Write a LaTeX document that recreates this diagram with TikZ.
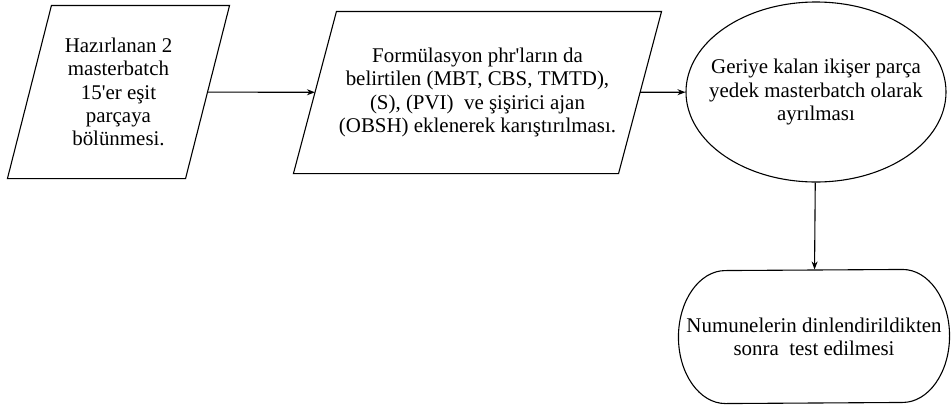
\documentclass[tikz,border=0pt]{standalone}
\usepackage{fontspec}
\setmainfont{Liberation Serif}
\usetikzlibrary{shapes.geometric, arrows.meta}

\tikzset{
  paral/.style={inner sep=0pt, align=center},
  oval/.style={draw, ellipse, inner ysep=0pt, inner xsep=-16bp, align=center},
  stadium/.style={inner sep=0pt, minimum width=270bp, minimum height=133bp, align=center}
}

\begin{document}
\begin{tikzpicture}[x=1bp, y=1bp, line width=1.1pt, >={Stealth[length=8bp, width=6bp]},
  font=\fontsize{21}{23.3}\selectfont]
  \useasboundingbox (0,0) rectangle (952,-412);
  \node[paral, minimum width=177bp, minimum height=172bp] (split) at (118.5,-92)
    {Hazırlanan 2\\masterbatch\\15\textquotesingle er eşit\\parçaya\\bölünmesi.};
  \node[paral, minimum width=324bp, minimum height=161bp] (mix) at (477.5,-92.5)
    {Formülasyon phr\textquotesingle ların da\\belirtilen (MBT, CBS, TMTD),\\(S), (PVI)\ \ ve şişirici ajan\\(OBSH) eklenerek karıştırılması.};
  \node[oval, minimum width=260bp, minimum height=180bp] (spare) at (816,-92)
    {Geriye kalan ikişer parça\\yedek masterbatch olarak\\ayrılması};
  \node[stadium] (test) at (814,-336.5)
    {Numunelerin dinlendirildikten\\sonra\ \ test edilmesi};
  \foreach \n/\s in {split/22, mix/21.5}
    \draw ([xshift=\s bp]\n.north west) -- ([xshift=\s bp]\n.north east)
      -- ([xshift=-\s bp]\n.south east) -- ([xshift=-\s bp]\n.south west) -- cycle;
  \draw ([xshift=47bp]test.south west)
    arc[start angle=270, end angle=90, x radius=47bp, y radius=66.5bp]
    -- ([xshift=-47bp]test.north east)
    arc[start angle=90, end angle=-90, x radius=47bp, y radius=66.5bp] -- cycle;
  \draw[->] (split) -- (mix);
  \draw[->] (mix) -- (spare);
  \draw[->] (spare) -- (test);
\end{tikzpicture}
\end{document}
